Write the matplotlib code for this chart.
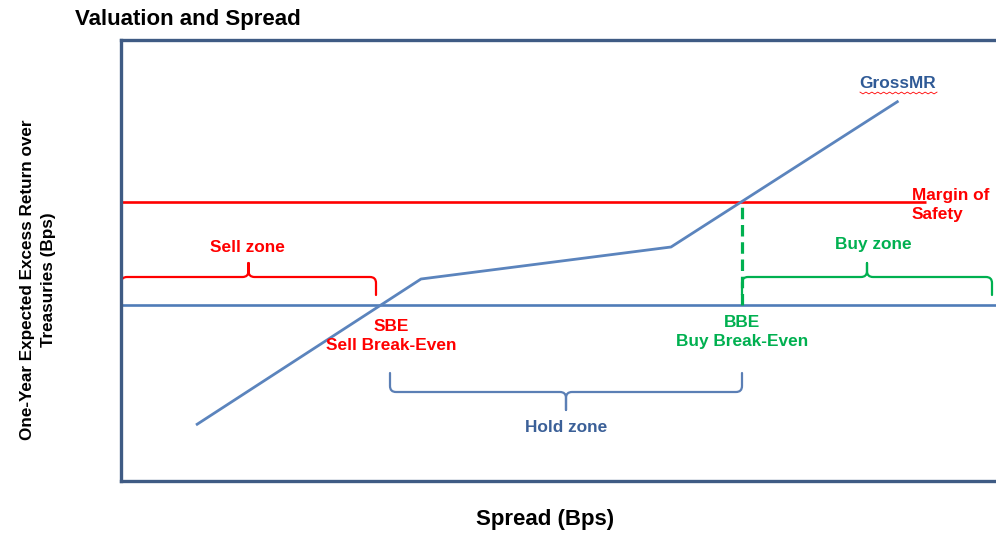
import numpy as np
import matplotlib
matplotlib.use('Agg')
import matplotlib.pyplot as plt
from matplotlib.path import Path
from matplotlib.patches import PathPatch

plt.rcParams['font.family'] = ['Liberation Sans', 'DejaVu Sans']
plt.rcParams['font.weight'] = 'bold'

# GrossMR curve (spread vs. expected excess return, bps)
spread = [30, 120, 220, 311]
gross_mr = [-60, 13, 29, 102]

margin_of_safety = 51.5
margin_end = 322
sbe = 104
bbe = 248.4

# zone brackets: x0, x1, tip level, base level, peak level
sell_zone = (0, 102, 5, 14, 21)
buy_zone = (bbe, 348.4, 5, 14, 21)
hold_zone = (107.6, bbe, -34, -43.5, -52.5)

RED = '#ff0000'
GREEN = '#00b050'
BLUE = '#5b84bd'
FRAME = '#3f5b84'
TXT_BLUE = '#3b6098'


def brace(ax, x0, x1, y_tip, y_base, y_peak, color, rx=2.4, r=3.0):
    xm = (x0 + x1) / 2
    d = 1 if y_peak > y_base else -1
    verts = [(x0, y_tip), (x0, y_base - d * r), (x0, y_base), (x0 + rx, y_base),
             (xm - rx, y_base), (xm, y_base), (xm, y_base + d * r), (xm, y_peak),
             (xm, y_base + d * r), (xm, y_base), (xm + rx, y_base),
             (x1 - rx, y_base), (x1, y_base), (x1, y_base - d * r), (x1, y_tip)]
    codes = [Path.MOVETO, Path.LINETO, Path.CURVE3, Path.CURVE3,
             Path.LINETO, Path.CURVE3, Path.CURVE3, Path.LINETO,
             Path.LINETO, Path.CURVE3, Path.CURVE3,
             Path.LINETO, Path.CURVE3, Path.CURVE3, Path.LINETO]
    ax.add_patch(PathPatch(Path(verts, codes), fill=False, edgecolor=color,
                           lw=1.6, capstyle='round', joinstyle='round'))


fig = plt.figure(figsize=(9.96, 5.41), dpi=100)
ax = fig.add_axes([121 / 996, 60 / 541, 875 / 996, 441 / 541])
ax.set_xlim(0, 350)
ax.set_ylim(-88, 132.5)
ax.set_xticks([])
ax.set_yticks([])
for side in ['left', 'top', 'bottom']:
    ax.spines[side].set_color(FRAME)
    ax.spines[side].set_linewidth(2.4)
ax.spines['right'].set_visible(False)

# zero line and margin of safety
ax.plot([0, 350], [0, 0], color='#4f7cb8', lw=1.9, solid_capstyle='butt')
ax.plot([0, margin_end], [margin_of_safety, margin_of_safety], color=RED, lw=1.9,
        solid_capstyle='butt')
ax.plot(spread, gross_mr, color=BLUE, lw=2.0, solid_capstyle='butt')
ax.plot([bbe, bbe], [0, margin_of_safety], color=GREEN, lw=2.3,
        linestyle=(0, (3.6, 1.8)))

brace(ax, *sell_zone, RED)
brace(ax, *buy_zone, GREEN)
brace(ax, *hold_zone, '#5b7fb5')

fs = 12.4
ax.text(50.4, 28.5, 'Sell zone', color=RED, fontsize=fs, ha='center', va='center')
ax.text(300.8, 30, 'Buy zone', color=GREEN, fontsize=fs, ha='center', va='center')
ax.text(108, -15.5, 'SBE\nSell Break-Even', color=RED, fontsize=fs, ha='center',
        va='center', linespacing=1.4)
ax.text(bbe, -13.5, 'BBE\nBuy Break-Even', color=GREEN, fontsize=fs, ha='center',
        va='center', linespacing=1.32)
ax.text(178, -61.5, 'Hold zone', color=TXT_BLUE, fontsize=fs, ha='center', va='center')
ax.text(316.4, 50.0, 'Margin of\nSafety', color=RED, fontsize=fs, ha='left',
        va='center', linespacing=1.4)
ax.text(310.8, 110.5, 'GrossMR', color='#2f5a96', fontsize=fs, ha='center', va='center')

# spell-check squiggle under GrossMR
sq_x = np.linspace(295.6, 326.4, 27)
sq_y = 106 + 0.45 * np.where(np.arange(27) % 2 == 0, 1, -1)
ax.plot(sq_x, sq_y, color=RED, lw=0.6)

fig.text(75 / 996, 1 - 19 / 541, 'Valuation and Spread', fontsize=16, ha='left',
         va='center')
fig.text(545 / 996, 1 - 520 / 541, 'Spread (Bps)', fontsize=16, ha='center',
         va='center')
fig.text(38 / 996, 1 - 280 / 541,
         'One-Year Expected Excess Return over\nTreasuries (Bps)',
         fontsize=12.3, rotation=90, ha='center', va='center',
         multialignment='center', linespacing=1.5)

fig.savefig('out.png', dpi=100)
